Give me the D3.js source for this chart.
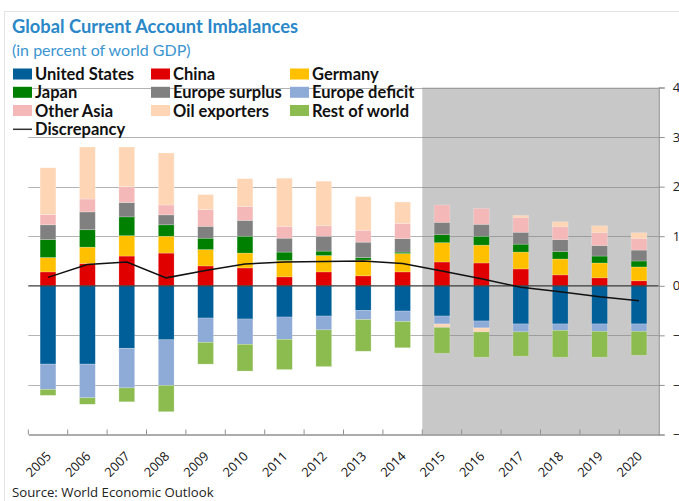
<!DOCTYPE html>
<html><head><meta charset="utf-8">
<script src="https://cdn.jsdelivr.net/npm/d3@7"></script>
<style>
html,body{margin:0;padding:0;background:#fff;overflow:hidden}
svg{display:block}
</style></head>
<body>
<svg id="c" width="679" height="501"></svg>
<script>
const years = ["2005","2006","2007","2008","2009","2010","2011","2012","2013","2014","2015","2016","2017","2018","2019","2020"];
const unitedStates  = [-1.58,-1.58,-1.26,-1.09,-0.65,-0.67,-0.63,-0.61,-0.50,-0.51,-0.61,-0.71,-0.77,-0.77,-0.77,-0.77];
const china         = [0.28,0.45,0.60,0.66,0.40,0.36,0.18,0.28,0.20,0.28,0.48,0.46,0.34,0.22,0.16,0.10];
const germany       = [0.29,0.33,0.41,0.34,0.33,0.30,0.33,0.33,0.32,0.37,0.39,0.36,0.34,0.32,0.30,0.28];
const japan         = [0.36,0.35,0.38,0.23,0.23,0.34,0.17,0.09,0.05,0.03,0.16,0.18,0.16,0.15,0.14,0.12];
const europeSurplus = [0.30,0.36,0.29,0.20,0.24,0.32,0.28,0.30,0.31,0.27,0.25,0.24,0.24,0.24,0.21,0.22];
const europeDeficit = [-0.51,-0.68,-0.80,-0.92,-0.49,-0.51,-0.45,-0.28,-0.18,-0.21,-0.16,-0.14,-0.16,-0.13,-0.15,-0.15];
const otherAsia     = [0.21,0.26,0.32,0.20,0.34,0.28,0.24,0.21,0.24,0.31,0.35,0.32,0.30,0.26,0.26,0.23];
const oilExporters  = [0.94,1.05,0.80,1.05,0.30,0.56,0.97,0.90,0.68,0.43,-0.07,-0.08,0.04,0.10,0.14,0.12];
const restOfWorld   = [-0.12,-0.13,-0.28,-0.53,-0.44,-0.54,-0.61,-0.74,-0.64,-0.53,-0.52,-0.51,-0.49,-0.54,-0.52,-0.48];
const discrepancy   = [0.17,0.43,0.48,0.16,0.31,0.44,0.48,0.49,0.50,0.45,0.30,0.14,-0.03,-0.12,-0.22,-0.30];
const yTicks = [4,3,2,1,0,-1,-2,-3];
const projectionStart = "2015";

const seriesNames = ["United States","China","Germany","Japan","Europe surplus","Europe deficit","Other Asia","Oil exporters","Rest of world"];
const seriesValues = [unitedStates,china,germany,japan,europeSurplus,europeDeficit,otherAsia,oilExporters,restOfWorld];
const seriesColors = ["#005e98","#e00000","#ffc000","#008000","#808080","#8eaad6","#f4b8b8","#fed6b5","#8cbc50"];
const legendOrder = ["United States","China","Germany","Japan","Europe surplus","Europe deficit","Other Asia","Oil exporters","Rest of world"];

const table = years.map((y,i)=>{
  const row = {year:y};
  seriesNames.forEach((n,k)=> row[n] = seriesValues[k][i]);
  return row;
});

const svg = d3.select("#c");
const L = 28.3, R = 658.7, T = 87.5, B = 434.5;

const x = d3.scaleBand().domain(years).range([L,R]).paddingInner(0.6).paddingOuter(0.3);
const xb = d3.scaleBand().domain(years).range([L,R]);
const y = d3.scaleLinear().domain([-3,4]).range([B,T]);

// frame
svg.append("rect").attr("x",4.5).attr("y",11.5).attr("width",720).attr("height",520)
  .attr("fill","none").attr("stroke","#e4e4e4");

// shaded projection area
svg.append("rect").attr("x",xb(projectionStart)).attr("y",T)
  .attr("width",R - xb(projectionStart)).attr("height",B-T).attr("fill","#c8c8c8");

// gridlines
svg.append("g").selectAll("line").data(yTicks.filter(d=>d!==0 && d!==-3)).join("line")
  .attr("x1",L).attr("x2",R).attr("y1",d=>Math.round(y(d))+0.5).attr("y2",d=>Math.round(y(d))+0.5)
  .attr("stroke","#808080").attr("stroke-opacity",0.6).attr("stroke-width",1.2);

// stacked bars
const stack = d3.stack().keys(seriesNames).offset(d3.stackOffsetDiverging);
const stacked = stack(table);
svg.append("g").selectAll("g").data(stacked).join("g")
  .attr("fill",(d,i)=>seriesColors[i])
  .selectAll("rect").data(d=>d).join("rect")
  .attr("x",d=>x(d.data.year))
  .attr("width",x.bandwidth())
  .attr("y",d=>y(Math.max(d[0],d[1])))
  .attr("height",d=>Math.abs(y(d[0])-y(d[1])))
  .attr("stroke","#ffffff").attr("stroke-opacity",0.35).attr("stroke-width",0.6);

// zero line
svg.append("line").attr("x1",L).attr("x2",R).attr("y1",y(0)).attr("y2",y(0))
  .attr("stroke","#3a3a3a").attr("stroke-width",1.3);

// bottom axis
const xAxis = d3.axisBottom(xb).tickSize(0).tickFormat("");
const gx = svg.append("g").attr("transform",`translate(0,${B})`).call(xAxis);
gx.select(".domain").attr("stroke","#909090").attr("stroke-width",1.3);
svg.append("g").selectAll("line").data(years.slice(1)).join("line")
  .attr("x1",d=>xb(d)).attr("x2",d=>xb(d)).attr("y1",B-5).attr("y2",B)
  .attr("stroke","#909090");
svg.append("line").attr("x1",L).attr("x2",L).attr("y1",B-5).attr("y2",B).attr("stroke","#909090");
svg.append("g").selectAll("text").data(years).join("text")
  .attr("transform",d=>`translate(${xb(d)+xb.bandwidth()/2+4},457) rotate(-45)`)
  .attr("text-anchor","end")
  .attr("font-family","'Open Sans', sans-serif").attr("font-size",12.8).attr("fill","#111")
  .text(d=>d);

// right axis
const yAxis = d3.axisRight(y).tickValues(yTicks).tickSize(6).tickPadding(8).tickFormat(d3.format("d"));
const gy = svg.append("g").attr("transform",`translate(${R},0)`).call(yAxis);
gy.select(".domain").attr("stroke","#909090").attr("stroke-width",1.2);
gy.selectAll(".tick line").attr("stroke","#909090");
gy.selectAll(".tick text").attr("font-family","'Open Sans', sans-serif").attr("font-size",13).attr("fill","#222");

// discrepancy line
svg.append("path").datum(discrepancy)
  .attr("d",d3.line().x((d,i)=>xb(years[i])+xb.bandwidth()/2).y(d=>y(d)))
  .attr("fill","none").attr("stroke","#111").attr("stroke-width",1.5);

// titles
svg.append("text").attr("x",12).attr("y",33).attr("font-family","Lato, sans-serif")
  .attr("font-weight","bold").attr("font-size",18.3).attr("fill","#2a87c8")
  .text("Global Current Account Imbalances");
svg.append("text").attr("x",12).attr("y",56).attr("font-family","Lato, sans-serif")
  .attr("font-size",16).attr("fill","#3a95d0")
  .text("(in percent of world GDP)");

// legend
const colX = [13,151,290];
const rowY = [74.5,92.8,111,129.3];
const lg = svg.append("g");
legendOrder.forEach((n,i)=>{
  const cx = colX[i%3], cy = rowY[Math.floor(i/3)];
  lg.append("rect").attr("x",cx).attr("y",cy-6).attr("width",19).attr("height",11)
    .attr("fill",seriesColors[seriesNames.indexOf(n)]);
  lg.append("text").attr("x",cx+22).attr("y",cy+5.5).attr("font-family","Lato, sans-serif")
    .attr("font-weight","bold").attr("font-size",16.5).attr("fill","#111").text(n);
});
lg.append("line").attr("x1",13).attr("x2",32).attr("y1",rowY[3]).attr("y2",rowY[3])
  .attr("stroke","#333").attr("stroke-width",1.5);
lg.append("text").attr("x",35).attr("y",rowY[3]+5.5).attr("font-family","Lato, sans-serif")
  .attr("font-weight","bold").attr("font-size",16.5).attr("fill","#111").text("Discrepancy");

// source
svg.append("text").attr("x",12).attr("y",497).attr("font-family","'Open Sans', sans-serif")
  .attr("font-size",13.2).attr("fill","#222").text("Source: World Economic Outlook");
</script>
</body></html>
